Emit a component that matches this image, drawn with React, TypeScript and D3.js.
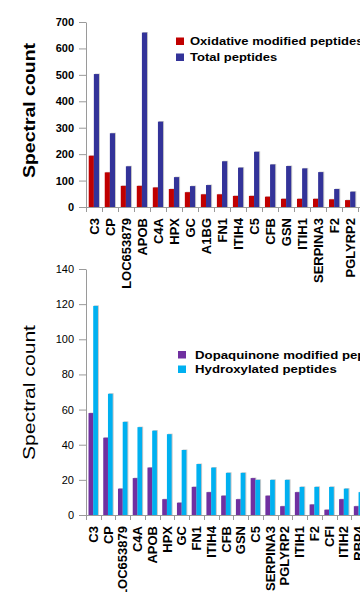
import React, { useEffect, useRef } from "react";
import * as d3 from "d3";

// top panel: oxidative modifications
const oxCategories = [
  "C3", "CP", "LOC653879", "APOB", "C4A", "HPX", "GC", "A1BG", "FN1",
  "ITIH4", "C5", "CFB", "GSN", "ITIH1", "SERPINA3", "F2", "PGLYRP2",
];
const oxidativeModified = [194, 131, 80, 80, 74, 68, 56, 48, 48, 42, 42, 39, 31, 31, 31, 29, 26];
const totalPeptides = [503, 279, 154, 660, 323, 113, 79, 83, 173, 149, 209, 161, 155, 146, 132, 68, 58];
const oxTicks = [0, 100, 200, 300, 400, 500, 600, 700];

// bottom panel: dopaquinone / hydroxylation
const dqCategories = [
  "C3", "CP", "LOC653879", "C4A", "APOB", "HPX", "GC", "FN1", "ITIH4", "CFB",
  "GSN", "C5", "SERPINA3", "PGLYRP2", "ITIH1", "F2", "CFI", "ITIH2", "RBP4",
];
const dopaquinoneModified = [58, 44, 15, 21, 27, 9, 7, 16, 13, 11, 9, 21, 11, 5, 13, 6, 3, 9, 5];
const hydroxylated = [119, 69, 53, 50, 48, 46, 37, 29, 27, 24, 24, 20, 20, 20, 16, 16, 16, 15, 13];
const dqTicks = [0, 20, 40, 60, 80, 100, 120, 140];

const FONT = "Arial, 'Liberation Sans', Helvetica, sans-serif";
const AXIS_COLOR = "#9a9a9a";

type Series = { name: string; values: number[]; color: string };

type PanelOpts = {
  categories: string[];
  series: Series[];
  ticks: number[];
  yTop: number;
  yBottom: number;
  xStart: number;
  bandWidth: number;
  tickBold: boolean;
  titleBold: boolean;
  titleY: number;
  legendX: number;
  legendY: number;
  legendStep: number;
  legendTextX: number;
  legendStretch: number;
};

function drawPanel(svg: d3.Selection<SVGSVGElement, unknown, null, undefined>, o: PanelOpts) {
  const g = svg.append("g");
  const width = 360;

  const y = d3.scaleLinear()
    .domain([0, d3.max(o.ticks) as number])
    .range([o.yBottom, o.yTop]);

  const x = d3.scaleBand()
    .domain(o.categories)
    .range([o.xStart, o.xStart + o.bandWidth * o.categories.length])
    .padding(0);

  const bw = x.bandwidth();
  const sub = d3.scaleBand()
    .domain(o.series.map(s => s.name))
    .range([bw * 0.17, bw * 0.81])
    .padding(0);

  // bars (with a faint shadow on the right)
  o.series.forEach(s => {
    g.append("g")
      .selectAll("rect")
      .data(s.values)
      .join("rect")
      .attr("x", (_, i) => (x(o.categories[i]) as number) + (sub(s.name) as number) + 1)
      .attr("y", d => y(d) - 0.5)
      .attr("width", sub.bandwidth())
      .attr("height", d => o.yBottom - y(d) + 0.5)
      .attr("fill", "#c8c8c8");
    g.append("g")
      .selectAll("rect")
      .data(s.values)
      .join("rect")
      .attr("x", (_, i) => (x(o.categories[i]) as number) + (sub(s.name) as number))
      .attr("y", d => y(d))
      .attr("width", sub.bandwidth())
      .attr("height", d => o.yBottom - y(d))
      .attr("fill", s.color);
  });

  // y axis
  const yAxis = g.append("g")
    .attr("transform", `translate(${o.xStart},0)`)
    .call(d3.axisLeft(y).tickValues(o.ticks).tickSize(7).tickPadding(5).tickSizeOuter(0));
  yAxis.select(".domain").attr("stroke", AXIS_COLOR);
  yAxis.selectAll(".tick line").attr("stroke", AXIS_COLOR);
  yAxis.selectAll(".tick text")
    .attr("fill", "#000")
    .style("font-family", FONT)
    .style("font-size", "11px")
    .style("font-weight", o.tickBold ? "bold" : "normal");

  // x axis: line, boundary ticks, rotated labels
  const xAxis = g.append("g");
  xAxis.append("line")
    .attr("x1", o.xStart).attr("x2", width)
    .attr("y1", o.yBottom + 0.5).attr("y2", o.yBottom + 0.5)
    .attr("stroke", AXIS_COLOR);
  const bounds = o.categories.map(c => x(c) as number).concat([x.range()[1]]);
  xAxis.selectAll("line.tk")
    .data(bounds)
    .join("line")
    .attr("class", "tk")
    .attr("x1", d => Math.round(d) + 0.5).attr("x2", d => Math.round(d) + 0.5)
    .attr("y1", o.yBottom).attr("y2", o.yBottom + 5)
    .attr("stroke", AXIS_COLOR);
  xAxis.selectAll("text")
    .data(o.categories)
    .join("text")
    .attr("transform", d => `translate(${(x(d) as number) + bw / 2},${o.yBottom + 11}) rotate(-90)`)
    .attr("text-anchor", "end")
    .attr("dominant-baseline", "central")
    .style("font-family", FONT)
    .style("font-size", "13px")
    .style("font-weight", "bold")
    .text(d => d);

  // y title
  g.append("text")
    .attr("transform", `translate(28.5,${o.titleY}) rotate(-90)`)
    .attr("text-anchor", "middle")
    .attr("dominant-baseline", "central")
    .attr("textLength", 135)
    .attr("lengthAdjust", "spacingAndGlyphs")
    .style("font-family", FONT)
    .style("font-size", "16.5px")
    .style("font-weight", o.titleBold ? "bold" : "normal")
    .text("Spectral count");

  // legend
  const legend = g.append("g")
    .attr("transform", `translate(${o.legendX},${o.legendY})`);
  o.series.forEach((s, i) => {
    const item = legend.append("g").attr("transform", `translate(0,${i * o.legendStep})`);
    item.append("rect")
      .attr("x", 0).attr("y", -4)
      .attr("width", 8).attr("height", 7.5)
      .attr("fill", s.color);
    item.append("text")
      .attr("transform", `translate(${o.legendTextX},0) scale(${o.legendStretch},1)`)
      .attr("dominant-baseline", "central")
      .style("font-family", FONT)
      .style("font-size", "10.5px")
      .style("font-weight", "bold")
      .text(s.name);
  });
}

const App = () => {
  const svgRef = useRef<SVGSVGElement>(null);

  useEffect(() => {
    const svg = d3.select(svgRef.current as SVGSVGElement);
    svg.selectAll("*").remove();

    svg.append("rect").attr("width", 360).attr("height", 592).attr("fill", "#fff");

    drawPanel(svg, {
      categories: oxCategories,
      series: [
        { name: "Oxidative modified peptides", values: oxidativeModified, color: "#c00000" },
        { name: "Total peptides", values: totalPeptides, color: "#333399" },
      ],
      ticks: oxTicks,
      yTop: 22,
      yBottom: 207,
      xStart: 86,
      bandWidth: 16.02,
      tickBold: true,
      titleBold: true,
      titleY: 110.5,
      legendX: 176,
      legendY: 41.5,
      legendStep: 16,
      legendTextX: 14,
      legendStretch: 1.24,
    });

    drawPanel(svg, {
      categories: dqCategories,
      series: [
        { name: "Dopaquinone modified peptides", values: dopaquinoneModified, color: "#7030a0" },
        { name: "Hydroxylated peptides", values: hydroxylated, color: "#00b0f0" },
      ],
      ticks: dqTicks,
      yTop: 269,
      yBottom: 515,
      xStart: 86,
      bandWidth: 14.74,
      tickBold: false,
      titleBold: false,
      titleY: 392.5,
      legendX: 178,
      legendY: 355,
      legendStep: 14.5,
      legendTextX: 17,
      legendStretch: 1.26,
    });
  }, []);

  return (
    <svg
      ref={svgRef}
      width={360}
      height={592}
      style={{ position: "absolute", left: 0, top: 0, overflow: "hidden" }}
    />
  );
};

export default App;
